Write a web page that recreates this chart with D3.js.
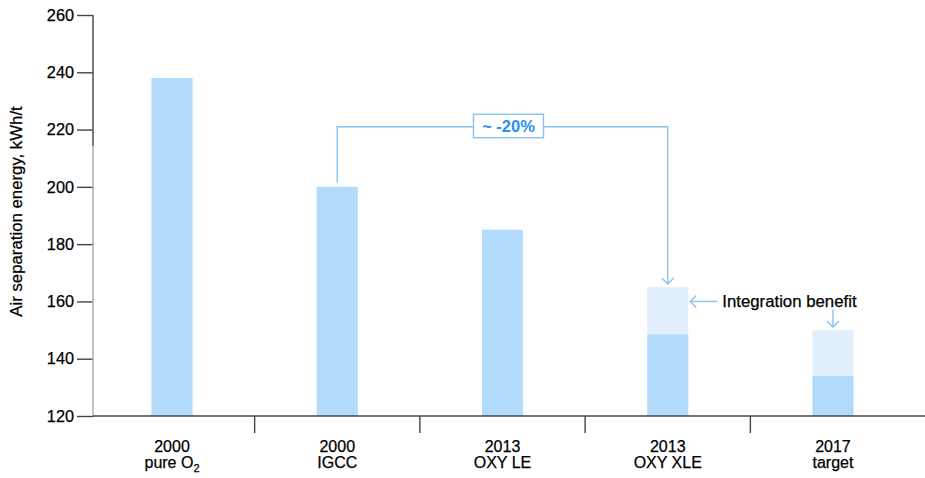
<!DOCTYPE html>
<html><head><meta charset="utf-8">
<script src="https://cdn.jsdelivr.net/npm/d3@7"></script>
<style>body{margin:0;background:#fff}svg{display:block}text{font-family:"Liberation Sans",Arial,sans-serif}</style>
</head><body>
<svg id="c" width="925" height="478"></svg>
<script>
const years = ["2000", "2000", "2013", "2013", "2017"];
const names = ["pure O", "IGCC", "OXY LE", "OXY XLE", "target"];
const nameSubs = ["2", "", "", "", ""];
const baseValues = [238, 200, 185, 148.5, 134];
const totalValues = [238, 200, 185, 165, 150];
const yTicks = [120, 140, 160, 180, 200, 220, 240, 260];
const yTitle = "Air separation energy, kWh/t";
const reductionLabel = "~ -20%";
const benefitLabel = "Integration benefit";

const svg = d3.select("#c");
const y = d3.scaleLinear().domain([120, 260]).range([416, 15]);
const x = d3.scaleBand().domain(d3.range(5)).range([89.4, 915.6]).paddingInner(0.752).paddingOuter(0.376);
const cx = i => x(i) + x.bandwidth() / 2;
const step = x.step();

const cMain = "#b3dbfc", cLight = "#e2f0fd", cAnn = "#86c3f3", cText = "#000";
const heavy = sel => sel.attr("stroke", cText).attr("stroke-width", 0.25);

// bars: light total then main base
svg.append("g").selectAll("rect").data(totalValues).join("rect")
  .attr("x", (d, i) => x(i)).attr("width", x.bandwidth())
  .attr("y", d => y(d)).attr("height", d => y(120) - y(d)).attr("fill", cLight);
svg.append("g").selectAll("rect").data(baseValues).join("rect")
  .attr("x", (d, i) => x(i)).attr("width", x.bandwidth())
  .attr("y", d => y(d)).attr("height", d => y(120) - y(d)).attr("fill", cMain);

// y axis
const yAxis = svg.append("g").attr("transform", "translate(93,0)")
  .call(d3.axisLeft(y).tickValues(yTicks).tickSize(16).tickPadding(3).tickSizeOuter(0));
yAxis.select(".domain").remove();
yAxis.selectAll(".tick line").attr("stroke", "#444").attr("stroke-width", 1.4);
yAxis.selectAll(".tick text").attr("font-size", 16.3).attr("fill", cText).attr("font-family", '"Liberation Sans",Arial,sans-serif').call(heavy);
svg.append("line").attr("x1", 93).attr("x2", 93).attr("y1", y(260)).attr("y2", 146).attr("stroke", "#444").attr("stroke-width", 1.4);
svg.append("line").attr("x1", 93).attr("x2", 93).attr("y1", 146).attr("y2", y(120)).attr("stroke", "#aaa").attr("stroke-width", 1.4);

// x baseline and boundary ticks
svg.append("line").attr("x1", 93).attr("x2", 925).attr("y1", y(120)).attr("y2", y(120)).attr("stroke", "#444").attr("stroke-width", 1.4);
svg.append("g").selectAll("line").data(d3.range(1, 5)).join("line")
  .attr("x1", i => x(i) - (step - x.bandwidth()) / 2).attr("x2", i => x(i) - (step - x.bandwidth()) / 2)
  .attr("y1", y(120)).attr("y2", y(120) + 17).attr("stroke", "#444").attr("stroke-width", 1.4);

// category labels
const lab = svg.append("g").selectAll("text").data(d3.range(5)).join("text")
  .attr("text-anchor", "middle").attr("font-size", 16).attr("fill", cText).call(heavy);
lab.append("tspan").attr("x", i => cx(i)).attr("y", 451.5).text(i => years[i]);
lab.append("tspan").attr("x", i => cx(i)).attr("y", 467.5).text(i => names[i]);
lab.filter(i => nameSubs[i]).append("tspan").attr("font-size", 11).attr("dy", 4).text(i => nameSubs[i]);

// y title
svg.append("text").attr("transform", "translate(22,211.5) rotate(-90)")
  .attr("text-anchor", "middle").attr("font-size", 16.8).attr("fill", cText).call(heavy).text(yTitle);

// bracket annotation
const ann = svg.append("g").attr("fill", "none").attr("stroke", cAnn).attr("stroke-width", 1.4);
const bx1 = cx(1), bx2 = cx(3), byTop = y(221);
ann.append("path").attr("d", d3.line()([[bx1, y(201.5)], [bx1, byTop], [bx2, byTop], [bx2, y(165) - 3]]));
const chev = (px, py, dir) => {
  const s = 6;
  if (dir === "down") return d3.line()([[px - s, py - s], [px, py], [px + s, py - s]]);
  return d3.line()([[px + s, py - s], [px, py], [px + s, py + s]]);
};
ann.append("path").attr("d", chev(bx2, y(165) - 3, "down"));
const boxCx = (bx1 + bx2) / 2 + 6;
svg.append("rect").attr("x", boxCx - 35).attr("y", byTop - 12.5).attr("width", 70).attr("height", 23.5)
  .attr("fill", "#fff").attr("stroke", cAnn).attr("stroke-width", 1.4);
svg.append("text").attr("x", boxCx).attr("y", byTop + 5.5).attr("text-anchor", "middle")
  .attr("font-size", 16.5).attr("font-weight", "bold").attr("fill", "#2a8ef0").text(reductionLabel);

// integration benefit
const ibY = y(160);
const bar4Right = x(3) + x.bandwidth();
ann.append("path").attr("d", d3.line()([[bar4Right + 2, ibY], [bar4Right + 29, ibY]]));
ann.append("path").attr("d", chev(bar4Right + 2, ibY, "left"));
svg.append("text").attr("x", bar4Right + 34).attr("y", ibY + 5.5).attr("font-size", 16.8).attr("fill", cText).call(heavy).text(benefitLabel);
ann.append("path").attr("d", d3.line()([[cx(4), y(157.2)], [cx(4), y(150) - 3]]));
ann.append("path").attr("d", chev(cx(4), y(150) - 3, "down"));
</script>
</body></html>
